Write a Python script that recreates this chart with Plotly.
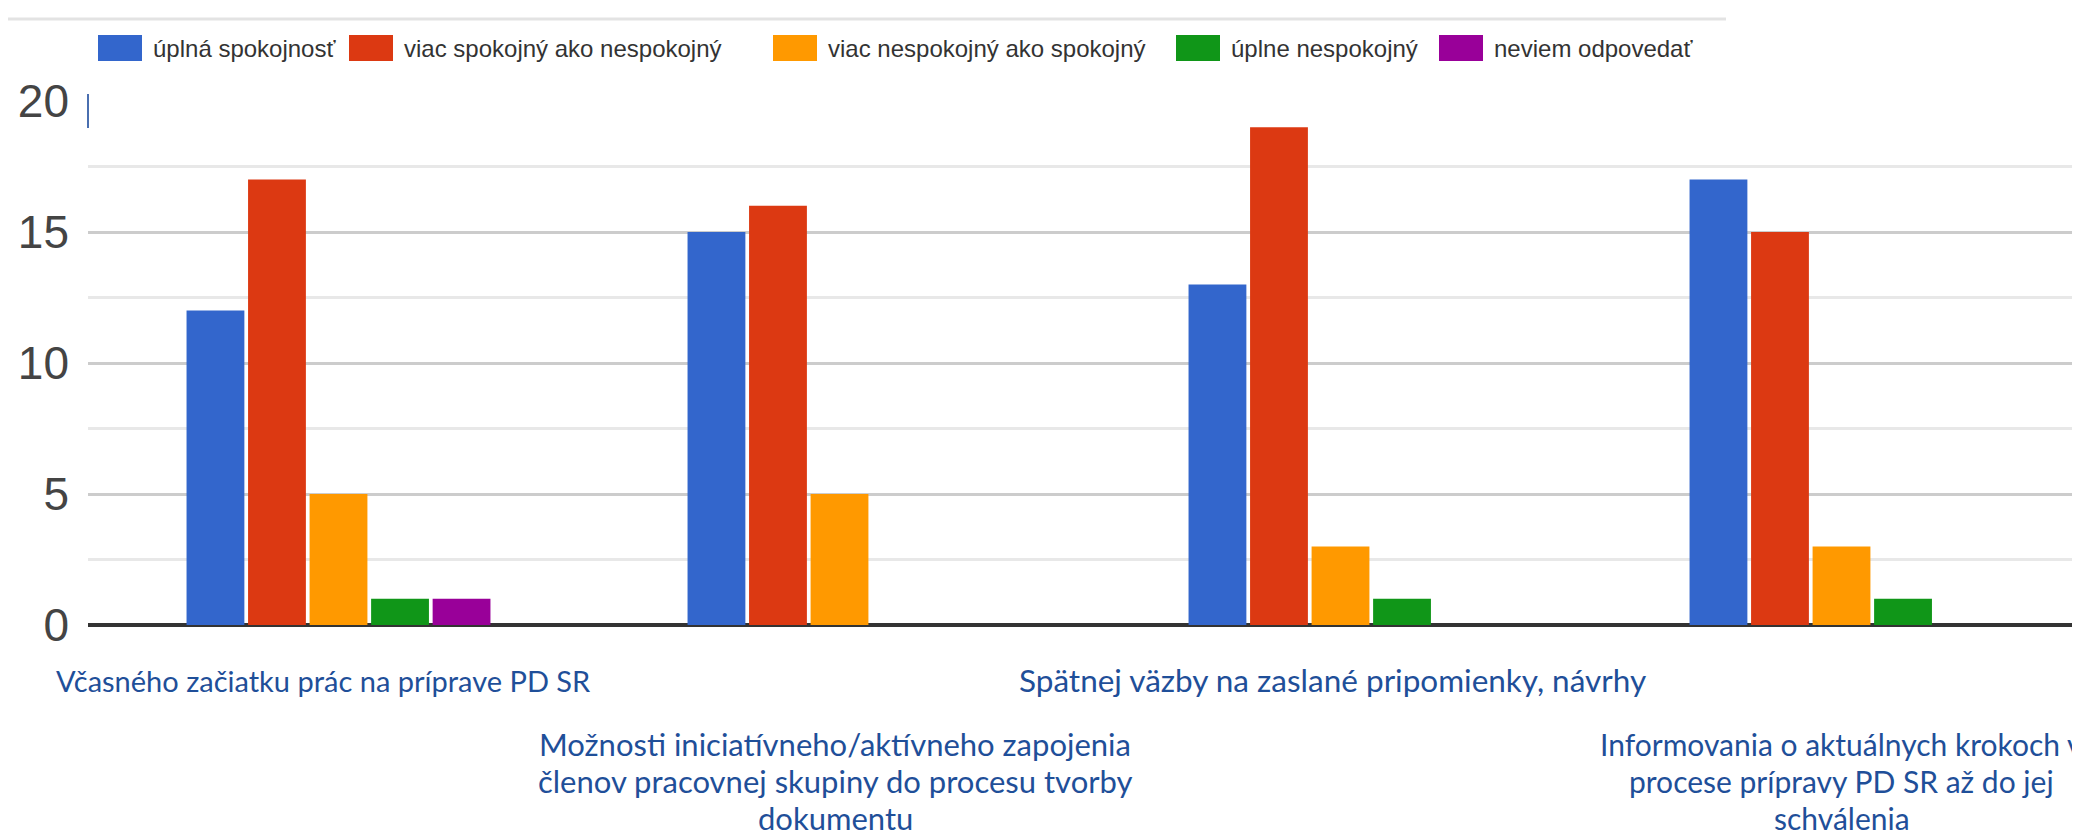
import plotly.graph_objects as go

categories = ["Včasného začiatku prác na príprave PD SR",
              "Možnosti iniciatívneho/aktívneho zapojenia členov pracovnej skupiny do procesu tvorby dokumentu",
              "Spätnej väzby na zaslané pripomienky, návrhy",
              "Informovania o aktuálnych krokoch v procese prípravy PD SR až do jej schválenia"]
label_lines = [["Včasného začiatku prác na príprave PD SR"],
               ["Možnosti iniciatívneho/aktívneho zapojenia", "členov pracovnej skupiny do procesu tvorby", "dokumentu"],
               ["Spätnej väzby na zaslané pripomienky, návrhy"],
               ["Informovania o aktuálnych krokoch v", "procese prípravy PD SR až do jej", "schválenia"]]
series_names = ["úplná spokojnosť", "viac spokojný ako nespokojný", "viac nespokojný ako spokojný",
                "úplne nespokojný", "neviem odpovedať"]
uplna = [12, 15, 13, 17]
viac_spok = [17, 16, 19, 15]
viac_nespok = [5, 5, 3, 3]
uplne_nespok = [1, 0, 1, 1]
neviem = [1, 0, 0, 0]
series_values = [uplna, viac_spok, viac_nespok, uplne_nespok, neviem]
colors = ["#3366CC", "#DC3912", "#FF9900", "#109618", "#990099"]
y_ticks = [0, 5, 10, 15, 20]

W, H = 2080, 836
L, T, B = 80, 93, 617  # plot pixel edges


def px_x(p):
    return (p - L) / (W - L)


def px_y(p):
    return (B - p) / (B - T)


fig = go.Figure()
xs = list(range(len(categories)))
for name, vals, col in zip(series_names, series_values, colors):
    fig.add_trace(go.Bar(x=xs, y=vals, name=name, marker=dict(color=col, line=dict(width=0)),
                         showlegend=False))
fig.add_trace(go.Scatter(x=[], y=[], yaxis="y2", showlegend=False, hoverinfo="skip"))

annotations = []
shapes = []
# category labels below the axis (one annotation per text line)
label_offsets = [-0.03, -0.008, -0.016, 0.0]
label_top = [672, 736, 672, 736]
label_size = [29, 31, 31.5, 30]
line_step = 37
for i, lines in enumerate(label_lines):
    for j, line in enumerate(lines):
        annotations.append(dict(x=xs[i] + label_offsets[i], y=px_y(label_top[i] + j * line_step),
                                xref="x", yref="paper", text=line, showarrow=False,
                                xanchor="center", yanchor="middle", align="center",
                                font=dict(family="Lato", size=label_size[i], color="#1F4F99")))

# legend (custom, wide swatches)
sw_x0 = [90, 341, 765, 1168, 1431]
for name, col, x0 in zip(series_names, colors, sw_x0):
    shapes.append(dict(type="rect", xref="paper", yref="paper", x0=px_x(x0), x1=px_x(x0 + 44),
                       y0=px_y(53), y1=px_y(27), fillcolor=col, line=dict(width=0)))
    annotations.append(dict(x=px_x(x0 + 53), y=px_y(40), xref="paper", yref="paper", text=name,
                            showarrow=False, xanchor="left", yanchor="middle",
                            font=dict(family="Liberation Sans Narrow, Liberation Sans", size=24,
                                      color="#333333")))
shapes.append(dict(type="line", xref="paper", yref="paper", x0=px_x(0), x1=px_x(1718),
                   y0=px_y(11), y1=px_y(11), line=dict(color="#e3e3e3", width=3)))
# small blue tick at the top-left of the plot area
shapes.append(dict(type="line", xref="paper", yref="paper", x0=0, x1=0,
                   y0=px_y(T - 7), y1=px_y(T + 27), line=dict(color="#4a6fb0", width=2)))

fig.update_layout(
    width=W, height=H,
    margin=dict(l=L, r=0, t=T, b=H - B, pad=0),
    paper_bgcolor="white", plot_bgcolor="white",
    barmode="group", bargap=0.386, bargroupgap=0.06,
    showlegend=False,
    annotations=annotations, shapes=shapes,
    xaxis=dict(range=[-0.5, 3.492], showticklabels=False, showgrid=False, zeroline=False,
               showline=False, ticks=""),
    yaxis=dict(range=[0, 20], tickvals=y_ticks, ticktext=[str(v) for v in y_ticks],
               showgrid=False, zeroline=True, zerolinecolor="#333333", zerolinewidth=4,
               showline=False, ticks="", ticklabelstandoff=18,
               tickfont=dict(family="Liberation Sans, Arial", size=46, color="#444444"),
               minor=dict(tickvals=[5, 10, 15], showgrid=True, gridcolor="#cccccc", gridwidth=3,
                          ticks="")),
    yaxis2=dict(range=[0, 20], overlaying="y", side="left", showticklabels=False,
                tickvals=[2.5, 7.5, 12.5, 17.5], showgrid=True, gridcolor="#e8e8e8", gridwidth=3,
                zeroline=False, showline=False, ticks=""),
)

fig.write_html("out.html")
